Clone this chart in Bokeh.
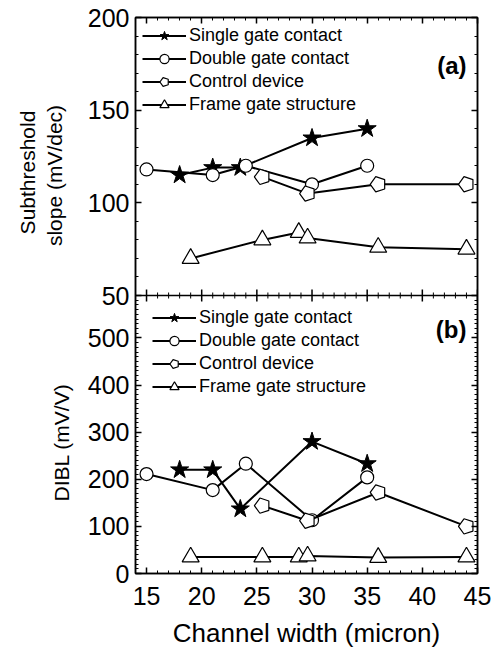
import math
from bokeh.plotting import figure
from bokeh.layouts import row
from bokeh.models import (Range1d, LinearAxis, FixedTicker, SingleIntervalTicker,
                          CustomJSTickFormatter, Span, Legend, LegendItem, Label)
from bokeh.embed import file_html
from bokeh.resources import INLINE

# ---------------- data ----------------
series_names = ["Single gate contact", "Double gate contact",
                "Control device", "Frame gate structure"]

x_single = [18, 21, 23.5, 30, 35]
x_double = [15, 21, 24, 30, 35]
x_control = [25.5, 29.6, 36, 44]
x_frame = [19, 25.5, 28.8, 29.6, 36, 44]

ss_single = [115, 119, 119, 135, 140]
ss_double = [118, 115, 120, 110, 120]
ss_control = [114, 105, 110, 110]
ss_frame = [70, 80, 84, 81, 76, 75]

dibl_single = [220, 220, 137, 280, 233]
dibl_double = [211, 177, 233, 113, 204]
dibl_control = [144, 112, 172, 100]
dibl_frame = [35, 35, 35, 37, 34, 35]

x_range = (14, 45)
ss_range = (50, 200)
dibl_range = (0, 590)
ss_ticks = [50, 100, 150, 200]
dibl_ticks = [0, 100, 200, 300, 400, 500]
x_major_ticks = [15, 20, 25, 30, 35, 40, 45]

y_title_top = ["Subthreshold", "slope (mV/dec)"]
y_title_bottom = "DIBL (mV/V)"
x_title = "Channel width (micron)"

FONT = "Liberation Sans"
W, H = 502, 657
TITLE_W = 80          # narrow strip that carries the y-axis titles
BORDER_TOP, BORDER_BOTTOM = 17, 84
FRAME_BOTTOM = H - BORDER_BOTTOM   # frames of both strips are aligned by the row

# ---------------- layout of the two stacked panels ----------------
d_lo, d_hi = dibl_range
s_lo, s_hi = ss_range
d_span = d_hi - d_lo
s_span = s_hi - s_lo
split = d_hi  # boundary between panels in the primary (DIBL) coordinate

p = figure(width=W - TITLE_W, height=H,
           x_range=Range1d(*x_range),
           y_range=Range1d(d_lo, d_lo + 2 * d_span),
           output_backend="svg", toolbar_location=None,
           min_border_left=135 - TITLE_W, min_border_right=25,
           min_border_top=BORDER_TOP, min_border_bottom=BORDER_BOTTOM)
p.extra_y_ranges = {"ss": Range1d(s_lo - s_span, s_hi)}
p.xgrid.visible = False
p.ygrid.visible = False
p.outline_line_color = "black"
p.outline_line_width = 1.5
p.background_fill_color = "white"
p.border_fill_color = "white"


def to_primary(v):
    return split + (v - s_lo) * d_span / s_span


left_major = list(dibl_ticks) + [to_primary(v) for v in ss_ticks]
left_minor = [v for v in range(d_lo, d_hi, 10) if v not in dibl_ticks]
left_minor += [to_primary(v) for v in range(s_lo, s_hi, 10) if v not in ss_ticks]
y_ticker = FixedTicker(ticks=left_major, minor_ticks=left_minor)

fmt = CustomJSTickFormatter(args=dict(split=split, lo=s_lo, dspan=d_span, sspan=s_span), code="""
if (tick < split - 0.5) { return Math.round(tick).toString(); }
return Math.round(lo + (tick - split) * sspan / dspan).toString();
""")
blank_fmt = CustomJSTickFormatter(code="return '';")


def style_axis(ax, labels=True):
    ax.major_tick_in = 6
    ax.major_tick_out = 0
    ax.minor_tick_in = 3
    ax.minor_tick_out = 0
    ax.axis_line_color = "black"
    ax.axis_line_width = 1.5
    ax.major_tick_line_width = 1.5
    ax.minor_tick_line_width = 1
    ax.major_tick_line_color = "black"
    ax.minor_tick_line_color = "black"
    ax.major_label_text_font = FONT
    ax.major_label_text_color = "black"
    ax.major_label_text_font_size = "25px"
    if labels:
        ax.major_label_standoff = 3
    else:
        ax.formatter = blank_fmt
        ax.major_label_standoff = 0


x_ticker = SingleIntervalTicker(interval=5, num_minor_ticks=5)

xa = p.xaxis[0]
xa.ticker = x_ticker
style_axis(xa)
xa.major_label_standoff = 13
xa.axis_label = x_title
xa.axis_label_text_font = FONT
xa.axis_label_text_font_size = "26px"
xa.axis_label_text_font_style = "normal"
xa.axis_label_text_color = "black"
xa.axis_label_standoff = 10

ya = p.yaxis[0]
ya.ticker = y_ticker
ya.formatter = fmt
style_axis(ya)
ya.major_label_standoff = 6

top_ax = LinearAxis(ticker=SingleIntervalTicker(interval=5, num_minor_ticks=5))
style_axis(top_ax, labels=False)
p.add_layout(top_ax, "above")

right_ax = LinearAxis(ticker=y_ticker)
style_axis(right_ax, labels=False)
p.add_layout(right_ax, "right")

# divider between the two panels, with inward ticks on both sides
p.add_layout(Span(location=split, dimension="width", line_color="black", line_width=1.5))
x_minor_ticks = [v for v in range(x_range[0], x_range[1] + 1) if v not in x_major_ticks]
p.scatter(x_major_ticks, [split] * len(x_major_ticks), marker="dash", angle=math.pi / 2,
          size=12, line_color="black", line_width=1.5)
p.scatter(x_minor_ticks, [split] * len(x_minor_ticks), marker="dash", angle=math.pi / 2,
          size=6, line_color="black", line_width=1)


# ---------------- series ----------------
def add(xs, ys, kind, yname):
    kw = {} if yname is None else {"y_range_name": yname}
    rl = p.line(xs, ys, line_color="black", line_width=2, **kw)
    if kind == "star":
        rm = p.scatter(xs, ys, marker="star", size=19, fill_color="black",
                       line_color="black", line_width=1, **kw)
    elif kind == "circle":
        rm = p.scatter(xs, ys, marker="circle", size=13, fill_color="white",
                       line_color="black", line_width=1.2, **kw)
    elif kind == "triangle":
        rm = p.scatter(xs, ys, marker="triangle", size=17, fill_color="white",
                       line_color="black", line_width=1.2, **kw)
    else:
        if hasattr(p, "ngon"):
            rm = p.ngon(x=xs, y=ys, radius=8, radius_units="screen", n=5,
                        angle=math.pi / 2, fill_color="white", line_color="black",
                        line_width=1.2, **kw)
        else:
            rm = p.scatter(xs, ys, marker="hex", size=16, fill_color="white",
                           line_color="black", line_width=1.2, **kw)
    return [rl, rm]


kinds = ["star", "circle", "pentagon", "triangle"]
top_sets = [(x_single, ss_single), (x_double, ss_double),
            (x_control, ss_control), (x_frame, ss_frame)]
bot_sets = [(x_single, dibl_single), (x_double, dibl_double),
            (x_control, dibl_control), (x_frame, dibl_frame)]

top_items, bot_items = [], []
for name, kind, (xs, ys) in zip(series_names, kinds, top_sets):
    top_items.append(LegendItem(label=name, renderers=add(xs, ys, kind, "ss")))
for name, kind, (xs, ys) in zip(series_names, kinds, bot_sets):
    bot_items.append(LegendItem(label=name, renderers=add(xs, ys, kind, None)))


def make_legend(items, loc):
    lg = Legend(items=items, location=loc)
    lg.label_text_font = FONT
    lg.label_text_font_size = "18px"
    lg.label_text_color = "black"
    lg.glyph_width = 44
    lg.glyph_height = 23
    lg.label_height = 22
    lg.label_standoff = 3
    lg.spacing = 0
    lg.padding = 7
    lg.margin = 0
    lg.border_line_alpha = 0
    lg.background_fill_alpha = 0
    return lg


p.add_layout(make_legend(top_items, "top_left"))
p.add_layout(make_legend(bot_items, (10, 168)))

# panel tags
p.add_layout(Label(x=44, y=174, y_range_name="ss", text="(a)", text_align="right",
                   text_baseline="middle", text_font=FONT, text_font_size="24px",
                   text_font_style="bold", text_color="black"))
p.add_layout(Label(x=44, y=518, text="(b)", text_align="right",
                   text_baseline="middle", text_font=FONT, text_font_size="24px",
                   text_font_style="bold", text_color="black"))

# ---------------- strip with the y-axis titles ----------------
t = figure(width=TITLE_W, height=H, output_backend="svg", toolbar_location=None,
           x_axis_type=None, y_axis_type=None,
           min_border_left=0, min_border_right=0,
           min_border_top=BORDER_TOP, min_border_bottom=BORDER_BOTTOM)
t.outline_line_color = None
t.xgrid.visible = False
t.ygrid.visible = False
t.background_fill_color = "white"
t.border_fill_color = "white"

# (x from strip's left edge, y as page row of the text centre) -> frame-relative screen units
title_specs = [(y_title_top[0], 27, 172), (y_title_top[1], 54, 175),
               (y_title_bottom, 61, 442)]
for txt, sx, page_y in title_specs:
    t.add_layout(Label(x=sx, y=FRAME_BOTTOM - page_y, x_units="screen", y_units="screen",
                       text=txt, angle=math.pi / 2, text_align="center",
                       text_baseline="middle", text_font=FONT, text_font_size="21px",
                       text_color="black"))

layout = row(t, p)
open("out.html", "w").write(file_html(layout, INLINE))
